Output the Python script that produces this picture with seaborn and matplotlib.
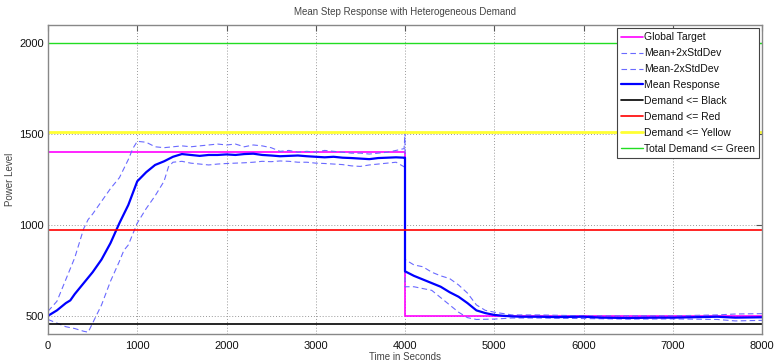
import matplotlib
matplotlib.use("Agg")
import matplotlib.pyplot as plt
import seaborn as sns
import numpy as np

sns.set_style("white")
plt.rcParams['font.family'] = ['Liberation Sans', 'DejaVu Sans']

# ---- data ----
t_mean = [0, 100, 200, 250, 300, 400, 500, 600, 700, 800, 900, 1000, 1100, 1200, 1300, 1400, 1500,
          1600, 1700, 1800, 1900, 2000, 2100, 2200, 2300, 2400, 2500, 2600, 2700, 2800, 2900, 3000,
          3100, 3200, 3300, 3400, 3500, 3600, 3700, 3800, 3900, 3990, 4000,
          4000, 4100, 4200, 4300, 4400, 4500, 4600, 4700, 4800, 4900, 5000, 5100, 5200, 5300, 5500,
          5700, 6000, 6200, 6500, 6800, 7000, 7200, 7500, 7700, 8000]
mean_resp = [500, 530, 570, 585, 620, 680, 740, 810, 900, 1010, 1110, 1240, 1290, 1330, 1350, 1375, 1390,
             1385, 1380, 1385, 1385, 1388, 1385, 1390, 1392, 1385, 1382, 1378, 1380, 1382, 1378, 1375,
             1372, 1375, 1370, 1368, 1365, 1362, 1368, 1370, 1372, 1370, 1370,
             745, 720, 700, 680, 660, 630, 605, 570, 530, 515, 505, 500, 497, 495, 495,
             493, 495, 490, 488, 490, 490, 492, 495, 490, 492]

t_upper = [0, 100, 200, 300, 400, 450, 500, 600, 700, 800, 900, 950, 1000, 1100, 1200, 1300, 1400,
           1500, 1600, 1700, 1800, 1900, 2000, 2100, 2200, 2300, 2400, 2500, 2600, 2700, 2800, 2900,
           3000, 3100, 3200, 3300, 3400, 3500, 3600, 3700, 3800, 3900, 3990, 4000,
           4000, 4100, 4200, 4300, 4400, 4500, 4600, 4700, 4800, 4900, 5000, 5200, 5500, 6000, 6500,
           7000, 7500, 7700, 8000]
mean_plus = [525, 580, 700, 820, 980, 1030, 1060, 1130, 1200, 1260, 1360, 1420, 1460, 1455, 1430, 1425, 1430,
             1435, 1430, 1435, 1440, 1445, 1440, 1445, 1430, 1440, 1435, 1425, 1405, 1410, 1400, 1405,
             1400, 1410, 1405, 1400, 1395, 1395, 1390, 1395, 1400, 1410, 1420, 1510,
             810, 780, 770, 740, 720, 705, 670, 625, 560, 530, 520, 505, 505, 500, 500,
             500, 505, 510, 512]

t_lower = [0, 100, 200, 300, 400, 450, 500, 600, 700, 800, 850, 900, 1000, 1100, 1200, 1300, 1350, 1400,
           1500, 1600, 1700, 1800, 1900, 2000, 2100, 2200, 2300, 2400, 2500, 2600, 2700, 2800, 2900,
           3000, 3100, 3200, 3300, 3400, 3500, 3600, 3700, 3800, 3900, 3990, 4000,
           4000, 4100, 4200, 4300, 4400, 4500, 4600, 4700, 4800, 5000, 5200, 5500, 6000, 6500,
           7000, 7500, 7700, 8000]
mean_minus = [480, 460, 440, 430, 415, 410, 460, 560, 690, 800, 860, 890, 1010, 1090, 1160, 1240, 1320, 1345,
              1350, 1340, 1335, 1330, 1335, 1338, 1340, 1342, 1345, 1350, 1348, 1352, 1350, 1345, 1345,
              1340, 1338, 1335, 1332, 1325, 1322, 1330, 1335, 1340, 1345, 1320, 1320,
              660, 660, 650, 640, 600, 560, 520, 490, 480, 482, 488, 488, 485, 482,
              483, 480, 472, 475]

t_target = [0, 4000, 4000, 8000]
global_target = [1400, 1400, 500, 500]

t_span = [0, 8000]
demand_black = 455
demand_red = 970
demand_yellow = 1510
demand_green = 2000

title = "Mean Step Response with Heterogeneous Demand"
xlabel = "Time in Seconds"
ylabel = "Power Level"
xticks = [0, 1000, 2000, 3000, 4000, 5000, 6000, 7000, 8000]
yticks = [500, 1000, 1500, 2000]

# ---- plotting ----
fig = plt.figure(figsize=(7.74, 3.64), dpi=100)
ax = fig.add_axes([48/774, 30/364, 714/774, 309/364])

kw = dict(ax=ax, sort=False, estimator=None)
sns.lineplot(x=t_target, y=global_target, color='#ff00ff', lw=1.2, label='Global Target', **kw)
sns.lineplot(x=t_upper, y=mean_plus, color='#6a6aff', lw=0.8, label='Mean+2xStdDev', **kw)
sns.lineplot(x=t_lower, y=mean_minus, color='#6a6aff', lw=0.8, label='Mean-2xStdDev', **kw)
sns.lineplot(x=t_mean, y=mean_resp, color='#0000ff', lw=1.6, label='Mean Response', **kw)
sns.lineplot(x=t_span, y=[demand_black]*2, color='black', lw=1.2, label='Demand <= Black', **kw)
sns.lineplot(x=t_span, y=[demand_red]*2, color='#ff0000', lw=1.2, label='Demand <= Red', **kw)
sns.lineplot(x=t_span, y=[demand_yellow]*2, color='#ffff33', lw=2.0, label='Demand <= Yellow', **kw)
sns.lineplot(x=t_span, y=[demand_green]*2, color='#22dd22', lw=1.0, label='Total Demand <= Green', **kw)

lines = ax.get_lines()
lines[1].set_linestyle((0, (5, 3)))
lines[2].set_linestyle((0, (5, 3)))

ax.set_xlim(0, 8000)
ax.set_ylim(400, 2100)
ax.set_xticks(xticks)
ax.set_yticks(yticks)
ax.set_xticklabels([str(v) for v in xticks], fontsize=8, color='#111111')
ax.set_yticklabels([str(v) for v in yticks], fontsize=8, color='#111111')
ax.tick_params(axis='y', direction='in', right=True, length=4, color='#555555', pad=3)
ax.tick_params(axis='x', direction='in', top=True, length=4, color='#555555', pad=5)
ax.grid(True, linestyle=(0, (1, 2)), color='#999999', lw=0.7)
ax.set_axisbelow(True)
for s in ax.spines.values():
    s.set_color('#888888')
    s.set_linewidth(1.0)

ax.set_title(title, fontsize=7, color='#444444', pad=7)
ax.set_xlabel(xlabel, fontsize=7, color='#444444', labelpad=1)
ax.set_ylabel(ylabel, fontsize=7, color='#444444')
ax.yaxis.set_label_coords((15 - 48) / 714, 0.5)

leg = ax.legend(loc='upper right', bbox_to_anchor=(1.0, 1.0), fontsize=7.5, frameon=True,
                fancybox=False, edgecolor='#444444', framealpha=1, handlelength=2.1,
                handletextpad=0.1, borderpad=0.4, labelspacing=0.57, borderaxespad=0.3)
leg.get_frame().set_linewidth(0.8)
for t in leg.get_texts():
    t.set_color('#111111')

fig.savefig('out.png', dpi=100)
